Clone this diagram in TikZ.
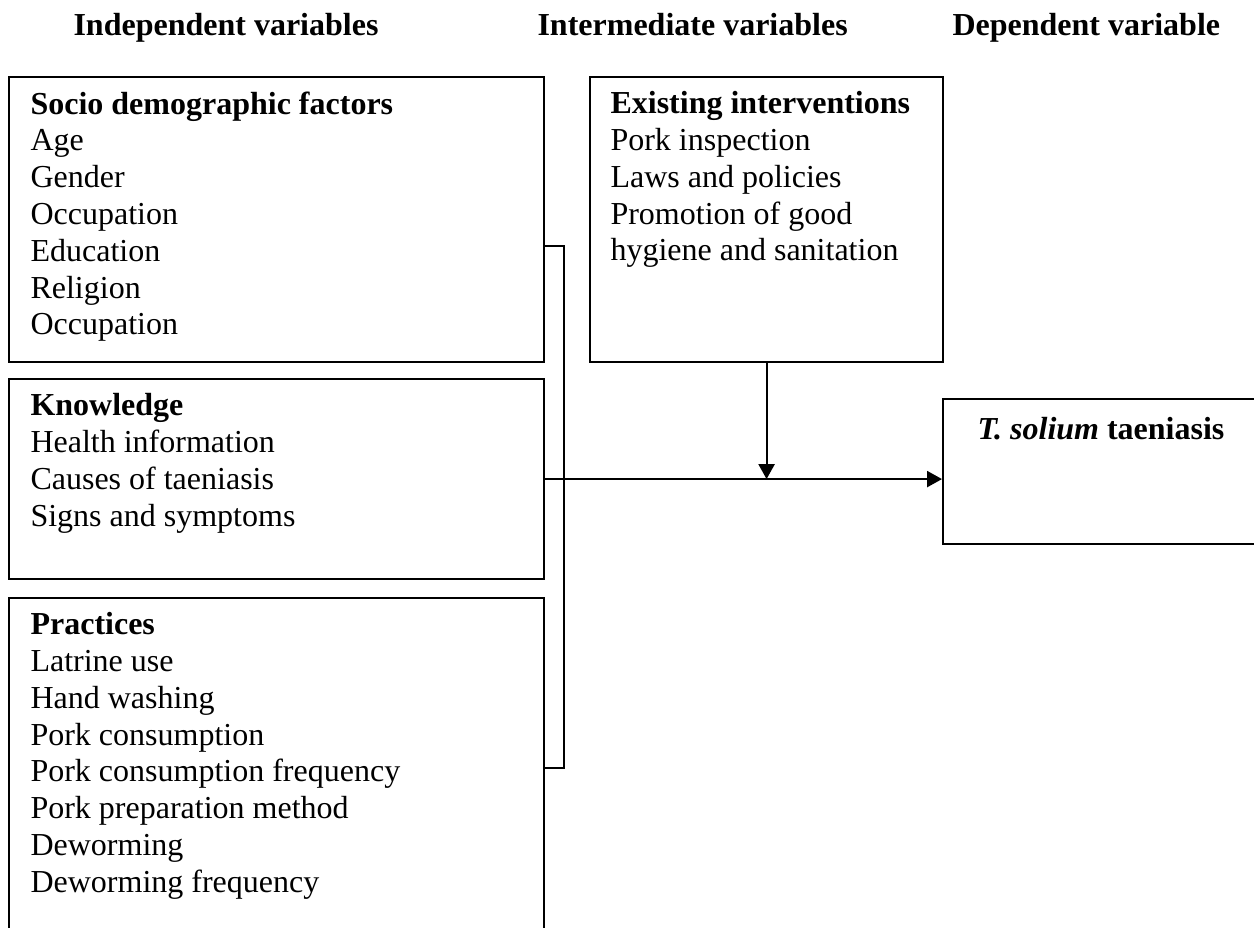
\documentclass[tikz,border=0pt]{standalone}
\usepackage{fontspec}
\setmainfont{Liberation Serif}
\usetikzlibrary{calc, arrows.meta}

\begin{document}
\begin{tikzpicture}[x=0.375pt, y=-0.375pt,
    box/.style={draw, line width=0.8pt, inner sep=0pt, anchor=north west},
    txt/.style={anchor=north west, inner sep=0pt, align=left, font=\fontsize{12}{13.8}\selectfont},
    head/.style={anchor=base west, inner sep=0pt, font=\fontsize{12}{13.8}\selectfont\bfseries},
    link/.style={line width=0.8pt},
    tip/.style={line width=0.8pt, -{Triangle[length=5.6pt, width=6pt]}}]

    % Page frame
    \useasboundingbox (0,0) rectangle (1254,927);
    \clip (0,0) rectangle (1254,927);

    % Column headings
    \node[head] (hindep) at (73,35) {Independent variables};
    \node[head] (hinter) at (537,35) {Intermediate variables};
    \node[head] (hdep) at (952,35) {Dependent variable};

    % Boxes
    \node[box, minimum width={535*0.375pt}, minimum height={285*0.375pt}] (soc) at (8,76) {};
    \node[box, minimum width={535*0.375pt}, minimum height={200*0.375pt}] (know) at (8,378) {};
    \node[box, minimum width={535*0.375pt}, minimum height={400*0.375pt}] (prac) at (8,597) {};
    \node[box, minimum width={353*0.375pt}, minimum height={285*0.375pt}] (exist) at (589,76) {};
    \node[box, minimum width={330*0.375pt}, minimum height={145*0.375pt}] (taen) at (942,398) {};

    % Box texts
    \node[txt] (soctext) at ($(soc.north west)+(22,15)$)
        {\textbf{Socio demographic factors}\\Age\\Gender\\Occupation\\Education\\Religion\\Occupation};
    \node[txt] (knowtext) at ($(know.north west)+(22,15)$)
        {\textbf{Knowledge}\\Health information\\Causes of taeniasis\\Signs and symptoms};
    \node[txt] (practext) at ($(prac.north west)+(22,15)$)
        {\textbf{Practices}\\Latrine use\\Hand washing\\Pork consumption\\Pork consumption frequency\\Pork preparation method\\Deworming\\Deworming frequency};
    \node[txt] (existtext) at ($(exist.north west)+(21,15)$)
        {\textbf{Existing interventions}\\Pork inspection\\Laws and policies\\Promotion of good\\hygiene and sanitation};
    \node[txt] (taentext) at ($(taen.north west)+(35,19)$)
        {\textbf{\textit{T. solium} taeniasis}};

    % Bracket joining the independent variables
    \coordinate (brtop) at ($(soc.north east)+(0,170)$);
    \coordinate (brbot) at ($(prac.north east)+(0,171)$);
    \coordinate (brside) at ($(brtop)+(19,0)$);
    \draw[link] (brtop) -- (brside) |- (brbot);

    % Arrows
    \draw[tip] (know.east) -- (know.east -| taen.west);
    \draw[tip] (exist.south) -- (exist.south |- know.east);
\end{tikzpicture}
\end{document}
